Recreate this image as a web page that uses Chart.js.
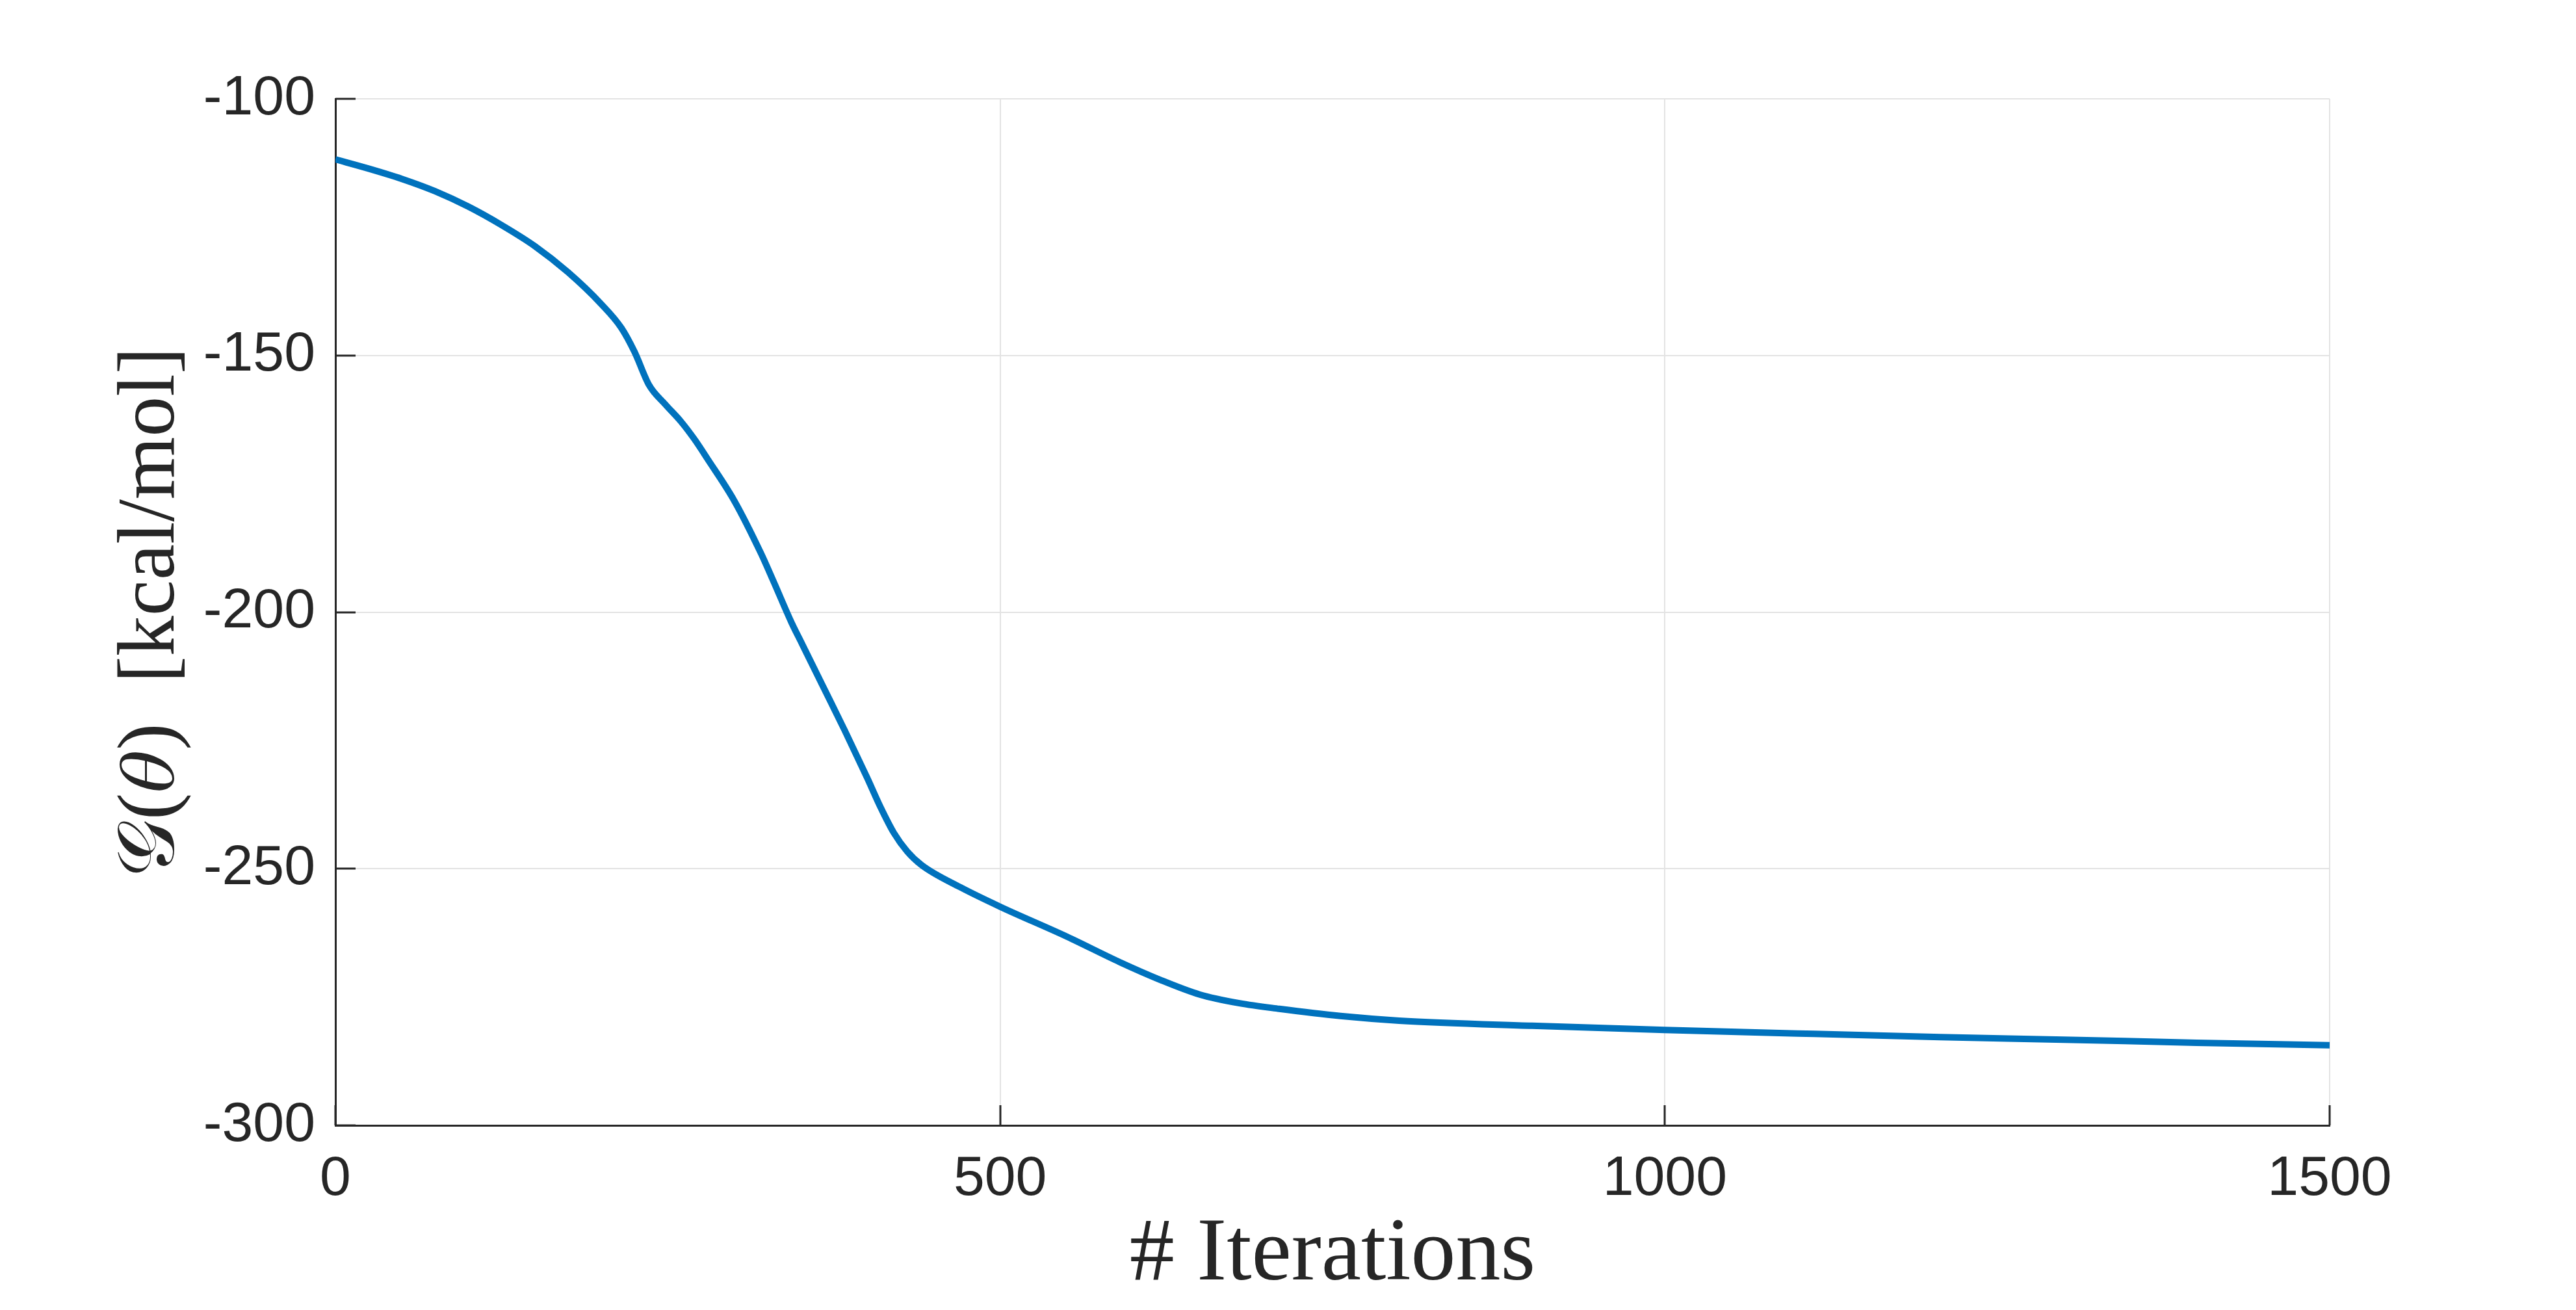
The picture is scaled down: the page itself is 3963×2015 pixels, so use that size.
<!DOCTYPE html>
<html>
<head>
<meta charset="utf-8">
<script src="https://cdn.jsdelivr.net/npm/chart.js@4.4.1/dist/chart.umd.min.js"></script>
<style>
  html, body { margin: 0; padding: 0; background: #fff; }
  canvas { display: block; }
</style>
</head>
<body>
<canvas id="chart" width="3963" height="2015" style="width:3963px;height:2015px"></canvas>
<script>
// values
const iterations = [0, 25, 50, 75, 100, 125, 150, 175, 200, 215, 225, 236, 248, 260, 270, 280, 300, 320, 330, 343,
  351, 367, 383, 400, 410, 420, 430, 441, 470, 500, 550, 590, 620, 650, 680, 710, 756, 800, 900, 1000,
  1100, 1207, 1300, 1400, 1500];
const energy = [-111.8, -113.6, -115.6, -118.0, -121.0, -124.6, -128.7, -133.8, -140.0, -144.6, -149.3, -155.8, -159.5, -162.9, -166.3, -170.2, -178.3, -188.5, -194.3, -202.0,
  -206.2, -214.6, -223.0, -232.3, -238.0, -243.0, -246.6, -249.3, -253.6, -257.4, -263.2, -268.2, -271.6, -274.5, -276.2, -277.3, -278.7, -279.6, -280.6, -281.4,
  -282.1, -282.8, -283.3, -283.9, -284.4];
const xTicks = [0, 500, 1000, 1500];
const yTicks = [-300, -250, -200, -150, -100];

const axisColor = '#262626';
const plotLeft = 516, plotRight = 3584, plotTop = 152, plotBottom = 1731;
const W = 3963, H = 2015;

// MATLAB style inward tick marks
const innerTicks = {
  id: 'innerTicks',
  afterDatasetsDraw(chart) {
    const { ctx, chartArea: area, scales: { x, y } } = chart;
    ctx.save();
    ctx.strokeStyle = axisColor;
    ctx.lineWidth = 3;
    ctx.beginPath();
    yTicks.forEach(v => {
      const py = Math.round(y.getPixelForValue(v));
      ctx.moveTo(area.left, py);
      ctx.lineTo(area.left + 31, py);
    });
    xTicks.forEach(v => {
      const px = Math.round(x.getPixelForValue(v));
      ctx.moveTo(px, area.bottom);
      ctx.lineTo(px, area.bottom - 31);
    });
    ctx.stroke();
    ctx.restore();
  }
};

new Chart(document.getElementById('chart'), {
  type: 'line',
  data: {
    datasets: [{
      data: iterations.map((v, i) => ({ x: v, y: energy[i] })),
      borderColor: '#0072BD',
      borderWidth: 10,
      pointRadius: 0,
      cubicInterpolationMode: 'monotone',
      fill: false
    }]
  },
  options: {
    responsive: false,
    animation: false,
    layout: { padding: { left: 0, top: plotTop, right: W - plotRight, bottom: 0 } },
    plugins: { legend: { display: false }, tooltip: { enabled: false } },
    scales: {
      x: {
        type: 'linear',
        min: 0, max: 1500,
        afterBuildTicks: s => { s.ticks = xTicks.map(v => ({ value: v })); },
        afterFit: s => { s.height = H - plotBottom; },
        grid: { color: '#e3e3e3', lineWidth: 2, drawTicks: false, tickLength: 0 },
        border: { color: axisColor, width: 3 },
        ticks: {
          color: axisColor, padding: 32, font: { family: 'Liberation Sans', size: 86 },
          callback: v => String(v)
        },
        title: {
          display: true, text: '# Iterations', color: axisColor,
          font: { family: 'Liberation Serif', size: 138 },
          padding: { top: 0, bottom: 0 }
        }
      },
      y: {
        min: -300, max: -100,
        afterBuildTicks: s => { s.ticks = yTicks.map(v => ({ value: v })); },
        afterFit: s => { s.width = plotLeft; },
        grid: { color: '#e3e3e3', lineWidth: 2, drawTicks: false, tickLength: 0 },
        border: { color: axisColor, width: 3 },
        ticks: {
          color: axisColor, padding: 31, font: { family: 'Liberation Sans', size: 86 },
          callback: v => String(v)
        },
        title: {
          display: true, text: '𝒢(𝜃)  [kcal/mol]', color: axisColor,
          font: { family: 'Liberation Serif', size: 124 },
          padding: { top: 160, bottom: 0 }
        }
      }
    }
  },
  plugins: [innerTicks]
});
</script>
</body>
</html>
